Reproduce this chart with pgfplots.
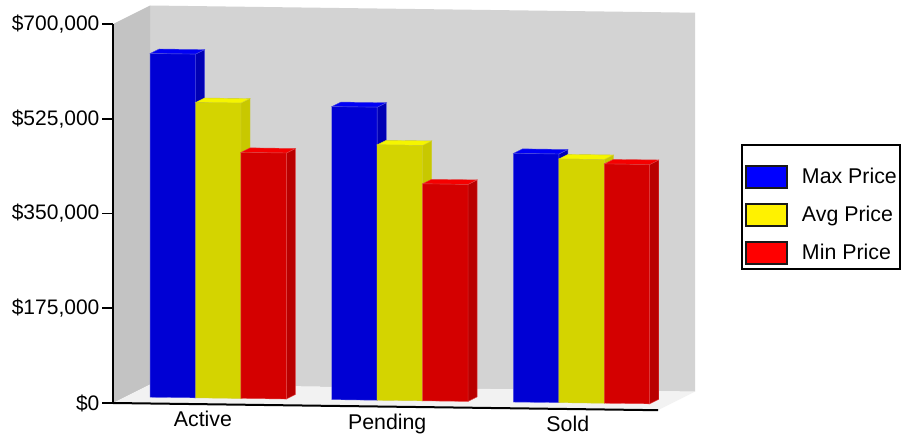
\documentclass[border=0pt]{standalone}
\usepackage{fontspec}
\setmainfont{Liberation Sans}
\usepackage{pgfplots}
\pgfplotsset{compat=1.18}
\definecolor{wallback}{RGB}{211,211,211}
\definecolor{wallleft}{RGB}{195,195,195}
\definecolor{wallfloor}{RGB}{242,242,242}
\definecolor{bf}{RGB}{0,0,212}\definecolor{bt}{RGB}{0,0,245}\definecolor{bs}{RGB}{0,0,180}\definecolor{be}{RGB}{80,80,225}
\definecolor{yf}{RGB}{212,212,0}\definecolor{yt}{RGB}{245,245,0}\definecolor{ys}{RGB}{200,200,0}\definecolor{ye}{RGB}{205,205,40}
\definecolor{rf}{RGB}{212,0,0}\definecolor{rt}{RGB}{245,0,0}\definecolor{rs}{RGB}{185,0,0}\definecolor{re}{RGB}{225,70,70}
% #1 left, #2 right, #3 value, #4 colour prefix
\newcommand\cuboid[4]{%
  \addplot3[forget plot,fill=#4s,draw=#4e,line width=0.3pt] coordinates {(#2,0.33,0) (#2,0.575,0) (#2,0.575,#3) (#2,0.33,#3)} --cycle;
  \addplot3[forget plot,fill=#4t,draw=#4e,line width=0.3pt] coordinates {(#1,0.33,#3) (#2,0.33,#3) (#2,0.575,#3) (#1,0.575,#3)} --cycle;
  \addplot3[forget plot,fill=#4f,draw=#4e,line width=0.3pt] coordinates {(#1,0.33,0) (#2,0.33,0) (#2,0.33,#3) (#1,0.33,#3)} --cycle;
}
\begin{document}
\begin{tikzpicture}
\path[use as bounding box] (-84.75pt,-24pt) rectangle (591.75pt,302.25pt);
\begin{axis}[
  anchor=origin, at={(0pt,0pt)},
  x={(136.25pt,-1.8pt)}, y={(27.75pt,13.875pt)}, z={(0pt,0.40607pt)},
  z filter/.code={\pgfmathparse{#1/1000}},
  xmin=0,xmax=3,ymin=0,ymax=1,zmin=0,zmax=700,
  clip=false,
  axis lines=left, axis on top,
  axis line style={-,black,line width=1.5pt},
  y axis line style={draw=none},
  z axis line style={draw=none},
  xtick={0.5,1.522,2.508}, xticklabels={Active,Pending,Sold},
  ytick=\empty,
  ztick=\empty,
  x tick label style={font=\fontsize{16pt}{18pt}\selectfont,black,xshift=12pt,yshift=2pt},
  x tick style={draw=none},
  tick align=outside,
  major tick length=7.5pt,
  legend image code/.code={\draw[#1,draw=black!90,line width=1.5pt] (0pt,-8.25pt) rectangle (30.75pt,8.25pt);\path[draw=none,fill=none] (0pt,0pt) -- (42.25pt,0pt);},
  legend cell align=left,
  legend style={at={(axis cs:3.4568,0,493)},anchor=north west,draw=black,line width=1.5pt,
    font=\fontsize{16pt}{18pt}\selectfont,inner xsep=2pt,inner ysep=3pt,row sep=10.4pt,fill=white,
    nodes={inner sep=0pt}},
]
\addplot3[forget plot,fill=wallback,draw=none] coordinates {(0,1,0) (3,1,0) (3,1,700000) (0,1,700000)} --cycle;
\addplot3[forget plot,fill=wallleft,draw=none] coordinates {(0,0,0) (0,1,0) (0,1,700000) (0,0,700000)} --cycle;
\addplot3[forget plot,fill=wallfloor,draw=none] coordinates {(0,0,0) (3,0,0) (3,1,0) (0,1,0)} --cycle;
\cuboid{0.137}{0.387}{634800}{b}
\cuboid{0.387}{0.637}{545400}{y}
\cuboid{0.637}{0.887}{454400}{r}
\cuboid{1.137}{1.387}{541200}{b}
\cuboid{1.387}{1.637}{471700}{y}
\cuboid{1.637}{1.887}{400800}{r}
\cuboid{2.137}{2.387}{459200}{b}
\cuboid{2.387}{2.637}{450100}{y}
\cuboid{2.637}{2.887}{442000}{r}
\addlegendimage{empty legend}
\addlegendentry{}
\addlegendimage{fill=blue}
\addlegendentry{Max Price}
\addlegendimage{fill=yellow}
\addlegendentry{Avg Price}
\addlegendimage{fill=red}
\addlegendentry{Min Price}
\end{axis}
\begin{axis}[
  anchor=origin, at={(0pt,0pt)},
  x={(1pt,0pt)}, y={(0pt,0.40607pt)},
  xmin=0,xmax=1,ymin=0,ymax=700,
  clip=false,
  axis y line=left, axis x line=none,
  y axis line style={-,black,line width=1.5pt},
  xtick=\empty,
  ytick={0,175,350,525,700},
  yticklabels={{\$0},{\$175,000},{\$350,000},{\$525,000},{\$700,000}},
  y tick label style={font=\fontsize{15.75pt}{18pt}\selectfont,black,inner xsep=2pt},
  y tick style={black,line width=1.2pt},
  tick align=outside,
  major tick length=8pt,
]
\end{axis}
\end{tikzpicture}
\end{document}
